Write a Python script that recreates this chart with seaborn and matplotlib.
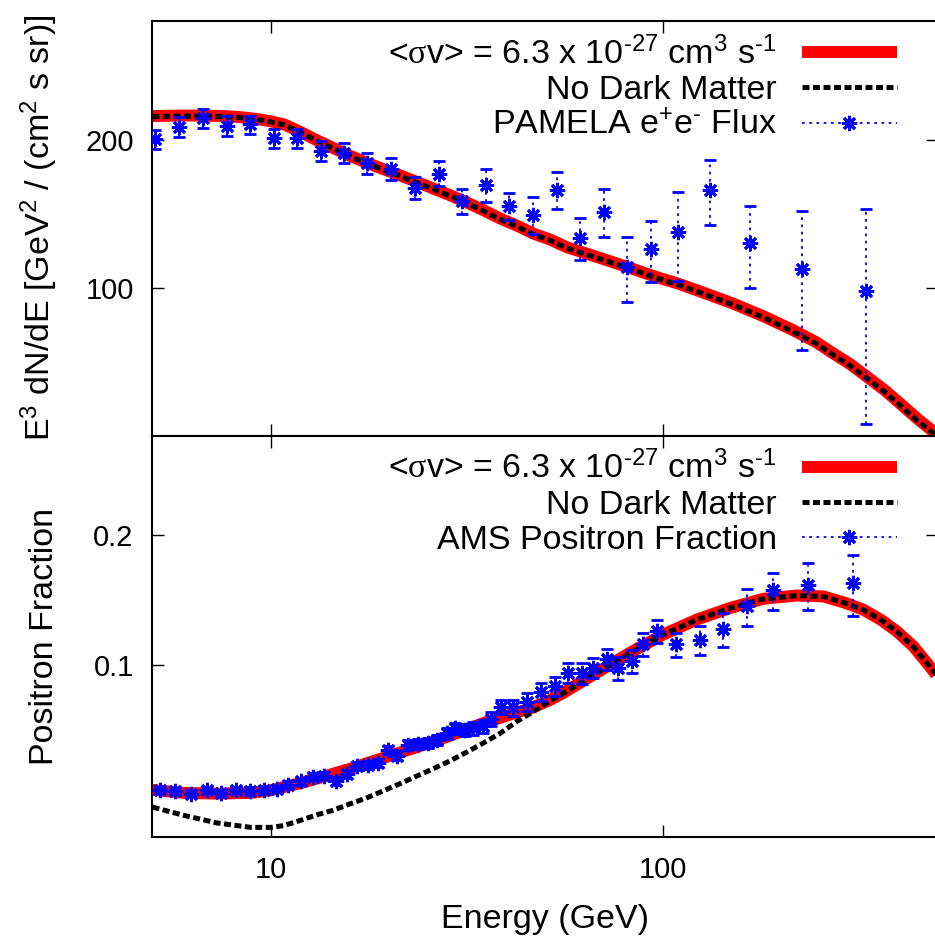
import matplotlib
matplotlib.use("Agg")
import matplotlib.pyplot as plt
from matplotlib.lines import Line2D
from matplotlib.ticker import NullLocator
import seaborn as sns

# ---------------- model curves: electron + positron flux (E^3 dN/dE) ----------------
flux_energy = [5, 5.5, 6, 6.7, 7.5, 8.3, 9.2, 10, 10.8, 11.9, 13.1, 14.4, 15.9, 17.5,
               19.4, 21.4, 23.5, 25.9, 28.6, 31.5, 34.8, 38.4, 42.3, 46.7, 51.4, 56.8,
               68, 80.7, 95, 110, 130, 151, 180, 214, 245, 271, 300, 330, 365, 401,
               445, 488, 500]
flux_dm = [224, 224.3, 224.5, 224.5, 224, 223, 221, 218.5, 215.5, 208, 200, 193, 186,
           180, 174.5, 169.5, 164.5, 159.5, 154.5, 149.5, 144, 138.5, 134, 129, 125.5,
           121, 115.5, 110.4, 105.5, 101.8, 97, 92.8, 87.5, 82, 77.5, 73.5, 69.8, 65.9,
           62, 58.1, 54, 50.9, 50.2]
flux_nodm = [223.5, 223.8, 224, 224, 223.5, 222.5, 220.5, 218, 215, 207.5, 199.5, 192.5,
             185.5, 179.5, 174, 169, 164, 159, 154, 149, 143.5, 138, 133.5, 128.5, 125,
             120.5, 115, 110, 105, 101.3, 96.5, 92.3, 87, 81.5, 77, 73, 69.3, 65.4, 61.5,
             57.6, 53.5, 50.5, 49.8]

# PAMELA e+e- flux
pamela_energy = [5.07, 5.85, 6.73, 7.73, 8.86, 10.2, 11.7, 13.4, 15.4, 17.6, 20.3, 23.3,
                 26.8, 30.7, 35.3, 40.5, 46.5, 53.5, 61.4, 70.6, 80.7, 92.9, 109.2, 131.5,
                 166.3, 225, 327.7]
pamela_flux = [200.7, 213, 221.5, 213.6, 215.3, 202.2, 201.6, 190, 188.4, 179.3, 174.6,
               159.9, 171, 150.2, 161.9, 146.7, 141, 158.4, 126.5, 143, 110.4, 119.8, 130,
               158, 123.3, 109.2, 98.6]
pamela_err = [9, 10, 10, 10, 9, 9, 9, 9, 9, 9, 9, 8, 10, 8.5, 12.6, 9.2, 12, 13.9, 12.4,
              15.8, 16.8, 17.2, 26.8, 23.9, 23.4, 34.5, 45.9]

# ---------------- model curves: positron fraction ----------------
frac_energy = [5, 6, 7.3, 8.9, 10, 10.8, 11.9, 13.1, 14.4, 15.9, 17.5, 19.4, 21.3, 23.5,
               25.9, 28.6, 31.5, 34.8, 38.4, 42.3, 45.8, 51.4, 55.6, 67.6, 82.3, 100,
               121.6, 148, 180, 219, 256, 293, 323, 360, 393, 433, 470, 500]
frac_dm = [0.0514, 0.0506, 0.0504, 0.0506, 0.0513, 0.0522, 0.0533, 0.0546, 0.0560, 0.0575,
           0.0592, 0.0610, 0.0627, 0.0645, 0.0665, 0.0686, 0.0709, 0.0734, 0.0755, 0.0777,
           0.0793, 0.0830, 0.0862, 0.0960, 0.1068, 0.1177, 0.1274, 0.1356, 0.1424, 0.1449,
           0.1442, 0.1390, 0.1344, 0.1270, 0.1198, 0.1106, 0.1010, 0.0940]
frac_nodm = [0.0469, 0.0449, 0.0431, 0.0421, 0.0421, 0.0425, 0.0437, 0.0450, 0.0461,
             0.0477, 0.0492, 0.0512, 0.0531, 0.0553, 0.0575, 0.0600, 0.0628, 0.0660,
             0.0695, 0.0740, 0.0772, 0.0826, 0.0860, 0.0958, 0.1066, 0.1176, 0.1273,
             0.1355, 0.1423, 0.1448, 0.1441, 0.1389, 0.1343, 0.1269, 0.1197, 0.1105,
             0.1009, 0.0939]

# AMS positron fraction
ams_energy = [5.23, 5.70, 6.26, 6.87, 7.46, 8.14, 8.86, 9.62, 10.36, 11.09, 11.93, 12.79,
              13.67, 14.67, 15.62, 16.62, 17.72, 18.73, 19.93, 21.01, 22.41, 23.77, 25.11,
              26.57, 28.07, 29.47, 31.26, 32.81, 34.79, 36.34, 38.53, 41.5, 44.9, 48.7,
              53.0, 57.3, 61.9, 66.3, 71.7, 76.8, 83.1, 88.9, 96.2, 107.8, 124, 142.1,
              163.1, 190.6, 234, 304.8]
ams_frac = [0.0513, 0.0510, 0.0503, 0.0513, 0.0505, 0.0515, 0.0512, 0.0515, 0.0517, 0.0529,
            0.0538, 0.0552, 0.0555, 0.0540, 0.0560, 0.0585, 0.0588, 0.0594, 0.0636, 0.0617,
            0.0653, 0.0657, 0.0660, 0.0671, 0.0695, 0.0714, 0.0709, 0.0714, 0.0721, 0.0752,
            0.0800, 0.0798, 0.0822, 0.0867, 0.0894, 0.0960, 0.0957, 0.0986, 0.1034, 0.0986,
            0.1021, 0.1116, 0.1198, 0.1116, 0.1142, 0.1213, 0.1368, 0.1489, 0.1534, 0.1548]
ams_err = [0.0008, 0.0008, 0.0008, 0.0008, 0.0008, 0.0008, 0.0009, 0.0009, 0.0009, 0.0009,
           0.0010, 0.0010, 0.0010, 0.0011, 0.0011, 0.0012, 0.0012, 0.0013, 0.0014, 0.0015,
           0.0016, 0.0017, 0.0018, 0.0019, 0.0020, 0.0021, 0.0023, 0.0024, 0.0026, 0.0028,
           0.0031, 0.0034, 0.0038, 0.0042, 0.0046, 0.0050, 0.0052, 0.0055, 0.0058, 0.0060,
           0.0064, 0.0068, 0.0075, 0.0072, 0.0088, 0.0110, 0.0134, 0.0145, 0.0190, 0.0250]

x_ticks = [10, 100]
x_ticklabels = ["10", "100"]
flux_ticks = [100, 200]
flux_ticklabels = ["100", "200"]
frac_ticks = [0.1, 0.2]
frac_ticklabels = ["0.1", "0.2"]

HY = "\u2010"  # typographic hyphen for the exponents
label_dm = r"<$\mathrm{\sigma}$v> = 6.3 x 10$^{" + HY + r"27}$ cm$^{3}$ s$^{" + HY + r"1}$"
label_nodm = "No Dark Matter"
label_pamela = r"PAMELA e$^{+}$e$^{" + HY + r"}$ Flux"
label_ams = "AMS Positron Fraction"

# ---------------- style ----------------
sns.set_theme(style="ticks")
plt.rcParams["font.family"] = ["Liberation Sans", "DejaVu Sans"]
plt.rcParams["mathtext.fontset"] = "custom"
plt.rcParams["mathtext.rm"] = "Liberation Serif"
plt.rcParams["mathtext.default"] = "regular"
for key in ("text.color", "axes.labelcolor", "xtick.color", "ytick.color",
            "axes.edgecolor"):
    plt.rcParams[key] = "black"

BIG = 24.5
TICK = 21
RED_LW = 8.6
DASH_LW = 3.6
DASH = (0, (1.4, 0.7))
DOT = (0, (1.5, 2.5))
AST = (8, 2, 0)

FIG_W, FIG_H = 935, 940
fig = plt.figure(figsize=(FIG_W / 100, FIG_H / 100), dpi=100)
top_box = [0.1631, 0.5367, 0.8398, 0.4410]
bot_box = [0.1631, 0.1096, 0.8398, 0.4271]
ax_top = fig.add_axes(top_box)
ax_bot = fig.add_axes(bot_box, sharex=ax_top)


def draw_panel(ax, box, xe, y_dm, y_nodm, px, py, perr, data_label):
    sns.lineplot(x=xe, y=y_dm, ax=ax, color="#ff0000", linewidth=RED_LW,
                 sort=False, zorder=2, solid_capstyle="butt")
    sns.lineplot(x=xe, y=y_nodm, ax=ax, color="black", linewidth=DASH_LW,
                 linestyle=DASH, dash_capstyle="butt", sort=False, zorder=2.5)
    eb = ax.errorbar(px, py, yerr=perr, linestyle="none", marker=AST, markersize=11,
                     markeredgewidth=2.0, color="#0000ff", ecolor="#0000ff",
                     elinewidth=1.3, capsize=4, capthick=1.0, zorder=3)
    for coll in eb[2]:
        coll.set_linestyle(DOT)
    handles = [
        Line2D([], [], color="#ff0000", linewidth=RED_LW, solid_capstyle="butt"),
        Line2D([], [], color="black", linewidth=DASH_LW, linestyle=DASH,
               dash_capstyle="butt"),
        Line2D([], [], color="#0000ff", linewidth=1.3, linestyle=DOT, marker=AST,
               markersize=11, markeredgewidth=2.0),
    ]
    # legend block sits ~14 px below the panel's upper edge
    height_px = box[3] * FIG_H
    ax.legend(handles, [label_dm, label_nodm, data_label], loc="upper right",
              bbox_to_anchor=(0.948, 1 - 15.5 / height_px), frameon=False,
              markerfirst=False, fontsize=BIG, handlelength=2.8, handletextpad=0.73,
              labelspacing=0.12, borderpad=0, borderaxespad=0)
    ax.set_xscale("log")
    ax.set_yscale("log")
    ax.set_xlim(5, 500)
    ax.set_xticks(x_ticks)
    ax.set_xticklabels(x_ticklabels)
    ax.xaxis.set_minor_locator(NullLocator())
    ax.tick_params(which="major", direction="in", length=8.4, width=1.0,
                   top=True, right=True, labelsize=TICK, color="black",
                   labelcolor="black")
    ax.tick_params(axis="x", pad=14)
    ax.tick_params(axis="y", pad=13.5)
    for sp in ax.spines.values():
        sp.set_linewidth(1.5)
        sp.set_color("black")


draw_panel(ax_top, top_box, flux_energy, flux_dm, flux_nodm,
           pamela_energy, pamela_flux, pamela_err, label_pamela)
draw_panel(ax_bot, bot_box, frac_energy, frac_dm, frac_nodm,
           ams_energy, ams_frac, ams_err, label_ams)

ax_top.set_ylim(50, 350)
ax_top.set_yticks(flux_ticks)
ax_top.set_yticklabels(flux_ticklabels)
ax_top.yaxis.set_minor_locator(NullLocator())
ax_top.tick_params(labelbottom=False)

ax_bot.set_ylim(0.04, 0.34)
ax_bot.set_yticks(frac_ticks)
ax_bot.set_yticklabels(frac_ticklabels)
ax_bot.yaxis.set_minor_locator(NullLocator())

ax_top.set_ylabel(r"E$^{3}$ dN/dE [GeV$^{2}$ / (cm$^{2}$ s sr)]", fontsize=BIG)
ax_bot.set_ylabel("Positron Fraction", fontsize=BIG)
ax_top.yaxis.set_label_coords(-0.118, 0.5)
ax_bot.yaxis.set_label_coords(-0.118, 0.5)
ax_bot.set_xlabel("Energy (GeV)", fontsize=BIG, labelpad=14)

fig.savefig("out.png", dpi=100, facecolor="white")
